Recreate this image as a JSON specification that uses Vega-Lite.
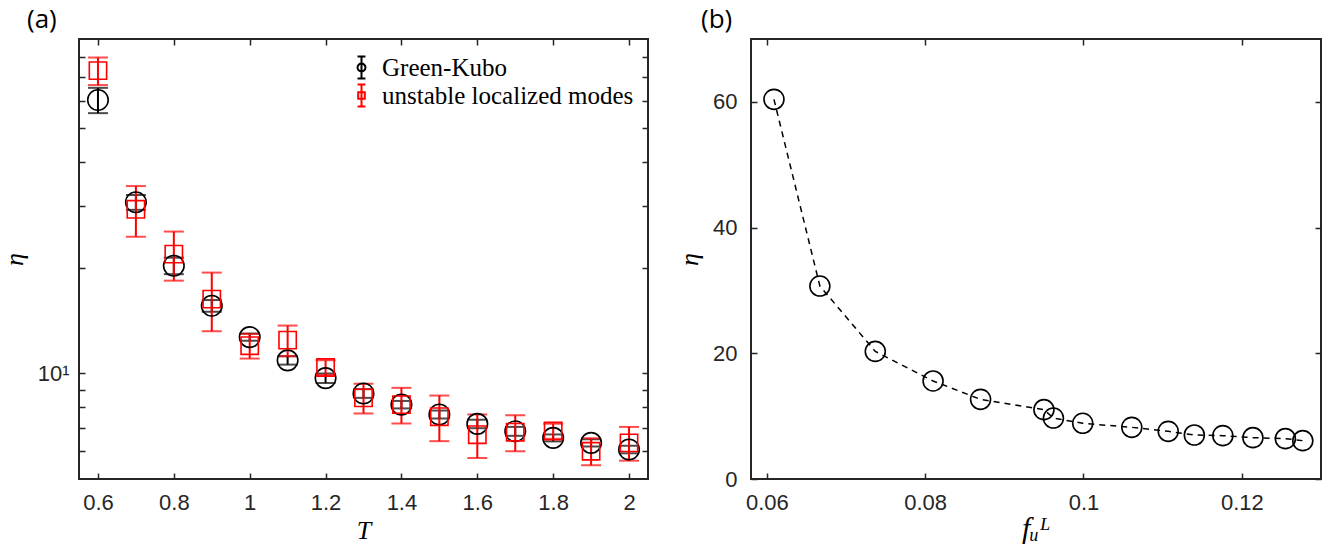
{
  "$schema": "https://vega.github.io/schema/vega-lite/v6.json",
  "background": "white",
  "padding": {"left": 0, "top": 6, "right": 18, "bottom": 5},
  "bounds": "flush",
  "spacing": 103,
  "config": {
    "view": {"stroke": "#262626", "strokeWidth": 2},
    "axis": {
      "domain": false,
      "grid": false,
      "tickColor": "#262626",
      "tickWidth": 1.5,
      "tickSize": -6,
      "labelFont": "Liberation Sans",
      "labelFontSize": 22,
      "labelColor": "#262626",
      "labelFlush": false,
      "labelOverlap": false,
      "titleFont": "Liberation Serif",
      "titleFontStyle": "italic",
      "titleFontWeight": "normal",
      "titleFontSize": 26,
      "titleColor": "#000000"
    },
    "title": {"font": "Open Sans", "fontSize": 26, "fontWeight": "normal", "color": "#000000"}
  },
  "hconcat": [
    {
      "width": 569,
      "height": 440,
      "title": {"text": "(a)", "anchor": "start", "frame": "group", "dx": -52, "offset": 5},
      "data": {
        "values": [
          {"T": 0.6, "eta": 60.3, "err": 5.0, "series": "Green-Kubo"},
          {"T": 0.7, "eta": 30.8, "err": 1.5, "series": "Green-Kubo"},
          {"T": 0.8, "eta": 20.3, "err": 1.1, "series": "Green-Kubo"},
          {"T": 0.9, "eta": 15.6, "err": 0.6, "series": "Green-Kubo"},
          {"T": 1.0, "eta": 12.7, "err": 0.3, "series": "Green-Kubo"},
          {"T": 1.1, "eta": 10.9, "err": 0.3, "series": "Green-Kubo"},
          {"T": 1.2, "eta": 9.7, "err": 0.3, "series": "Green-Kubo"},
          {"T": 1.3, "eta": 8.77, "err": 0.25, "series": "Green-Kubo"},
          {"T": 1.4, "eta": 8.15, "err": 0.2, "series": "Green-Kubo"},
          {"T": 1.5, "eta": 7.64, "err": 0.2, "series": "Green-Kubo"},
          {"T": 1.6, "eta": 7.18, "err": 0.2, "series": "Green-Kubo"},
          {"T": 1.7, "eta": 6.84, "err": 0.2, "series": "Green-Kubo"},
          {"T": 1.8, "eta": 6.55, "err": 0.15, "series": "Green-Kubo"},
          {"T": 1.9, "eta": 6.34, "err": 0.15, "series": "Green-Kubo"},
          {"T": 2.0, "eta": 6.07, "err": 0.15, "series": "Green-Kubo"},
          {"T": 0.6, "eta": 73.1, "err": 6.6, "series": "unstable localized modes"},
          {"T": 0.7, "eta": 29.4, "err": 4.85, "series": "unstable localized modes"},
          {"T": 0.8, "eta": 21.9, "err": 3.5, "series": "unstable localized modes"},
          {"T": 0.9, "eta": 16.3, "err": 3.1, "series": "unstable localized modes"},
          {"T": 1.0, "eta": 12.0, "err": 0.97, "series": "unstable localized modes"},
          {"T": 1.1, "eta": 12.45, "err": 1.25, "series": "unstable localized modes"},
          {"T": 1.2, "eta": 10.4, "err": 0.5, "series": "unstable localized modes"},
          {"T": 1.3, "eta": 8.52, "err": 0.83, "series": "unstable localized modes"},
          {"T": 1.4, "eta": 8.15, "err": 0.95, "series": "unstable localized modes"},
          {"T": 1.5, "eta": 7.53, "err": 1.12, "series": "unstable localized modes"},
          {"T": 1.6, "eta": 6.69, "err": 0.95, "series": "unstable localized modes"},
          {"T": 1.7, "eta": 6.8, "err": 0.8, "series": "unstable localized modes"},
          {"T": 1.8, "eta": 6.85, "err": 0.34, "series": "unstable localized modes"},
          {"T": 1.9, "eta": 6.0, "err": 0.53, "series": "unstable localized modes"},
          {"T": 2.0, "eta": 6.34, "err": 0.7, "series": "unstable localized modes"}
        ]
      },
      "resolve": {"axis": {"x": "independent", "y": "independent"}},
      "layer": [
        {
          "transform": [{"filter": "datum.series === 'Green-Kubo'"}],
          "mark": {"type": "errorbar", "ticks": {"size": 20}, "thickness": 2, "color": "#000000"},
          "encoding": {
            "x": {
              "field": "T", "type": "quantitative",
              "scale": {"domain": [0.55, 2.05], "nice": false, "zero": false},
              "axis": {"values": [0.6, 0.8, 1.0, 1.2, 1.4, 1.6, 1.8, 2.0], "format": "~g", "labelPadding": 19, "title": "T", "titlePadding": 4}
            },
            "y": {
              "field": "eta", "type": "quantitative",
              "scale": {"type": "log", "domain": [5, 90], "nice": false},
              "axis": {"values": [6, 7, 8, 9, 10, 20, 30, 40, 50, 60, 70, 80], "labelExpr": "datum.value == 10 ? '10¹' : ''", "labelPadding": 16, "title": "η", "titlePadding": 10}
            },
            "yError": {"field": "err"}
          }
        },
        {
          "transform": [{"filter": "datum.series === 'unstable localized modes'"}],
          "mark": {"type": "errorbar", "ticks": {"size": 20}, "thickness": 2, "color": "#ff0000"},
          "encoding": {
            "x": {"field": "T", "type": "quantitative", "axis": null},
            "y": {"field": "eta", "type": "quantitative", "axis": null},
            "yError": {"field": "err"}
          }
        },
        {
          "transform": [{"filter": "datum.series === 'Green-Kubo'"}],
          "mark": {"type": "point", "shape": "circle", "filled": false, "size": 420, "strokeWidth": 1.6, "color": "#000000", "opacity": 1},
          "encoding": {
            "x": {"field": "T", "type": "quantitative", "axis": null},
            "y": {"field": "eta", "type": "quantitative", "axis": null}
          }
        },
        {
          "transform": [{"filter": "datum.series === 'unstable localized modes'"}],
          "mark": {"type": "point", "shape": "square", "filled": false, "size": 300, "strokeWidth": 1.6, "color": "#ff0000", "opacity": 1},
          "encoding": {
            "x": {"field": "T", "type": "quantitative", "axis": null},
            "y": {"field": "eta", "type": "quantitative", "axis": null}
          }
        },
        {
          "mark": {"type": "point", "filled": false, "size": 0, "strokeWidth": 2, "opacity": 1},
          "encoding": {
            "x": {"field": "T", "type": "quantitative", "axis": null},
            "y": {"field": "eta", "type": "quantitative", "axis": null},
            "color": {
              "field": "series", "type": "nominal",
              "scale": {"domain": ["Green-Kubo", "unstable localized modes"], "range": ["#000000", "#ff0000"]},
              "legend": {
                "title": null,
                "orient": "none",
                "legendX": 270,
                "legendY": 16,
                "labelFont": "Liberation Serif",
                "labelFontSize": 25,
                "labelColor": "#000000",
                "labelLimit": 400,
                "labelOffset": 8,
                "rowPadding": -3,
                "symbolStrokeWidth": 2,
                "symbolSize": 484,
                "symbolOpacity": 1,
                "symbolFillColor": "transparent"
              }
            },
            "shape": {
              "field": "series", "type": "nominal",
              "scale": {
                "domain": ["Green-Kubo", "unstable localized modes"],
                "range": [
                  "M0,-1L0,1M-0.36,-1L0.36,-1M-0.36,1L0.36,1M0.36,0A0.36,0.36,0,1,1,-0.36,0A0.36,0.36,0,1,1,0.36,0Z",
                  "M0,-1L0,1M-0.36,-1L0.36,-1M-0.36,1L0.36,1M-0.3,-0.3L0.3,-0.3L0.3,0.3L-0.3,0.3Z"
                ]
              }
            }
          }
        },
        {
          "mark": {"type": "point", "opacity": 0},
          "encoding": {
            "x": {"field": "T", "type": "quantitative", "axis": {"orient": "top", "values": [0.6, 0.8, 1.0, 1.2, 1.4, 1.6, 1.8, 2.0], "labels": false, "title": null}},
            "y": {"field": "eta", "type": "quantitative", "axis": {"orient": "right", "values": [6, 7, 8, 9, 10, 20, 30, 40, 50, 60, 70, 80], "labels": false, "title": null}}
          }
        }
      ]
    },
    {
      "width": 570,
      "height": 440,
      "title": {"text": "(b)", "anchor": "start", "frame": "group", "dx": -50, "offset": 5},
      "data": {
        "values": [
          {"f": 0.0609, "eta": 60.4},
          {"f": 0.0667, "eta": 30.7},
          {"f": 0.0737, "eta": 20.3},
          {"f": 0.0810, "eta": 15.6},
          {"f": 0.0870, "eta": 12.67},
          {"f": 0.0950, "eta": 11.03},
          {"f": 0.0962, "eta": 9.7},
          {"f": 0.0999, "eta": 8.86},
          {"f": 0.1061, "eta": 8.22},
          {"f": 0.1107, "eta": 7.58},
          {"f": 0.1140, "eta": 7.0},
          {"f": 0.1176, "eta": 6.9},
          {"f": 0.1214, "eta": 6.58},
          {"f": 0.1255, "eta": 6.42},
          {"f": 0.1277, "eta": 6.1}
        ]
      },
      "resolve": {"axis": {"x": "independent", "y": "independent"}},
      "layer": [
        {
          "mark": {"type": "point", "filled": false, "size": 400, "strokeWidth": 1.6, "color": "#000000", "opacity": 1},
          "encoding": {
            "x": {
              "field": "f", "type": "quantitative",
              "scale": {"domain": [0.058, 0.13], "nice": false, "zero": false},
              "axis": {"values": [0.06, 0.08, 0.1, 0.12], "format": "~g", "labelPadding": 19, "title": "fᵤᴸ", "titleFontSize": 30, "titlePadding": 0}
            },
            "y": {
              "field": "eta", "type": "quantitative",
              "scale": {"domain": [0, 70], "nice": false},
              "axis": {"values": [0, 20, 40, 60], "labelPadding": 20, "title": "η", "titlePadding": 10}
            }
          }
        },
        {
          "mark": {"type": "line", "color": "#000000", "strokeWidth": 1.5, "strokeDash": [6, 5]},
          "encoding": {
            "x": {"field": "f", "type": "quantitative", "axis": null},
            "y": {"field": "eta", "type": "quantitative", "axis": null}
          }
        },
        {
          "mark": {"type": "point", "opacity": 0},
          "encoding": {
            "x": {"field": "f", "type": "quantitative", "axis": {"orient": "top", "values": [0.06, 0.08, 0.1, 0.12], "labels": false, "title": null}},
            "y": {"field": "eta", "type": "quantitative", "axis": {"orient": "right", "values": [0, 20, 40, 60], "labels": false, "title": null}}
          }
        }
      ]
    }
  ]
}
